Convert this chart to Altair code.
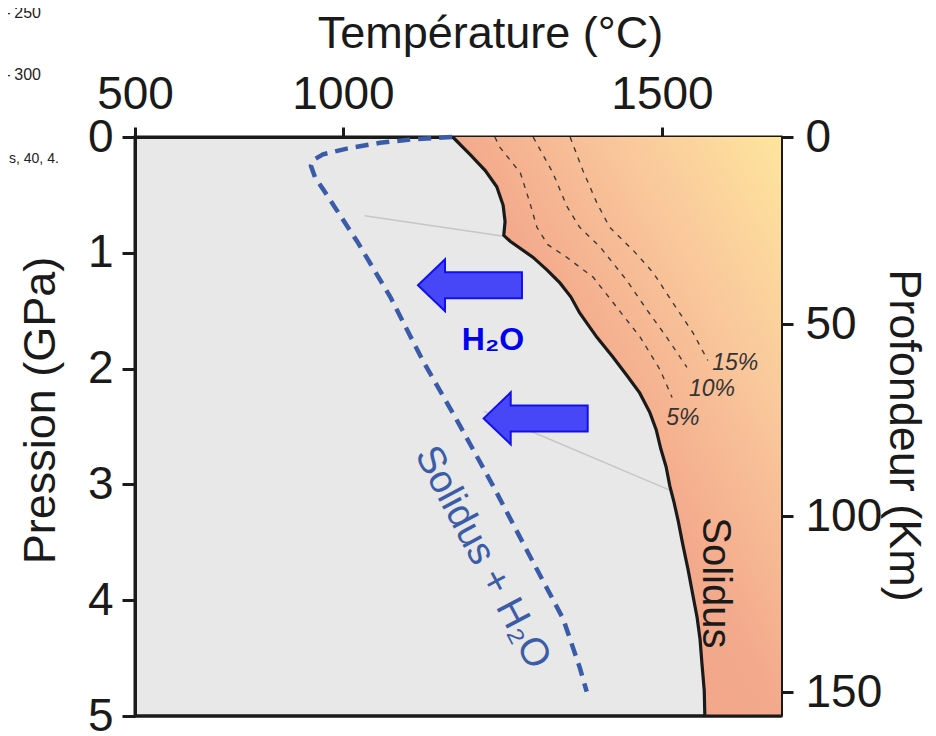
import altair as alt
import pandas as pd

# ---------------- data ----------------
T_TICKS = [500, 1000, 1500]
T_DOMAIN = [500, 1000, 1500, 1700]
P_TICKS = [0, 1, 2, 3, 4, 5]
P_DOMAIN = [0, 5]
Z_TICKS = [0, 50, 100, 150]
Z_DOMAIN = [0, 50, 100, 150, 157]

solidus_T = [1172, 1199, 1223, 1241, 1251, 1254, 1252, 1262, 1298, 1320, 1340, 1357,
             1371, 1398, 1423, 1445, 1465, 1481, 1491, 1498, 1507, 1513, 1520, 1527,
             1535, 1544, 1552, 1559, 1564, 1567, 1571, 1572]
solidus_P = [0.0, 0.15, 0.29, 0.43, 0.59, 0.73, 0.85, 0.90, 1.04, 1.15, 1.26, 1.38,
             1.52, 1.73, 1.90, 2.06, 2.21, 2.38, 2.53, 2.69, 2.85, 3.01, 3.15, 3.31,
             3.52, 3.74, 3.96, 4.15, 4.34, 4.54, 4.78, 5.0]

wet_T = [1171, 1110, 1058, 1006, 952, 928, 923, 933, 952, 1022, 1074, 1125,
         1178, 1235, 1293, 1345, 1371, 1382]
wet_P = [0.0, 0.02, 0.05, 0.10, 0.15, 0.20, 0.25, 0.35, 0.45, 0.90, 1.38, 1.93,
         2.44, 3.01, 3.62, 4.16, 4.58, 4.79]

melt5_T = [1238, 1246, 1278, 1293, 1304, 1321, 1351, 1392, 1429, 1466, 1497, 1517]
melt5_P = [0.0, 0.09, 0.31, 0.57, 0.78, 0.93, 1.04, 1.21, 1.47, 1.73, 2.01, 2.25]
melt10_T = [1298, 1329, 1351, 1371, 1403, 1445, 1476, 1508, 1542]
melt10_P = [0.0, 0.31, 0.60, 0.78, 0.95, 1.24, 1.49, 1.73, 1.99]
melt15_T = [1356, 1376, 1398, 1418, 1455, 1486, 1518, 1552, 1577]
melt15_P = [0.0, 0.29, 0.57, 0.78, 0.98, 1.17, 1.43, 1.69, 1.93]

pct_labels = ["5%", "10%", "15%"]
pct_T = [1535, 1584, 1623]
pct_P = [2.43, 2.18, 1.95]

guide_id = ["a", "a", "b", "b"]
guide_T = [1034, 1249, 1221, 1513]
guide_P = [0.68, 0.855, 2.37, 3.05]

arrow_T = [1199, 1302]
arrow_P = [1.28, 2.43]

h2o_T, h2o_P = [1235], [1.75]
wet_label_T, wet_label_P = [1219], [3.63]
sol_label_T, sol_label_P = [1589], [3.85]

fragments = ["– 250", "– 300", "s, 40, 4."]

# ---------------- layout ----------------
W, H = 646, 579
X_RANGE = [0, 208, 527, 646]
Z_RANGE = [0, 187, 379, 555, 579]
FONT = "Liberation Sans"

xscale = alt.Scale(domain=T_DOMAIN, range=X_RANGE, nice=False, zero=False)
yscale = alt.Scale(domain=P_DOMAIN, range=[0, H], nice=False, zero=False)

xaxis = alt.Axis(orient="top", values=T_TICKS, title="Température (°C)",
                 titleX=355, titleY=-90, titleAlign="center", titleBaseline="alphabetic",
                 titleAngle=0, labelPadding=9, tickSize=10, format="d")
yaxis = alt.Axis(orient="left", values=P_TICKS, title="Pression (GPa)",
                 titleX=-81, titleY=273, titleAlign="center", titleBaseline="alphabetic",
                 titleAngle=-90, labelPadding=9, tickSize=13, format="d")


def X(field="T"):
    return alt.X(f"{field}:Q", scale=xscale, axis=xaxis)


def Y(field="P"):
    return alt.Y(f"{field}:Q", scale=yscale, axis=yaxis)


sol_df = pd.DataFrame({"T": solidus_T, "P": solidus_P, "Tmax": T_DOMAIN[-1],
                       "i": range(len(solidus_T))})
wet_df = pd.DataFrame({"T": wet_T, "P": wet_P, "i": range(len(wet_T))})
melt_rows = []
for name, ts, ps in [("5", melt5_T, melt5_P), ("10", melt10_T, melt10_P), ("15", melt15_T, melt15_P)]:
    for i, (t, p) in enumerate(zip(ts, ps)):
        melt_rows.append({"c": name, "T": t, "P": p, "i": i})
melt_df = pd.DataFrame(melt_rows)
pct_df = pd.DataFrame({"T": pct_T, "P": pct_P, "label": pct_labels})
guide_df = pd.DataFrame({"g": guide_id, "T": guide_T, "P": guide_P, "i": range(4)})
arrow_df = pd.DataFrame({"T": arrow_T, "P": arrow_P})

gradient = alt.Gradient(
    gradient="linear",
    stops=[alt.GradientStop(color="#fee59d", offset=0),
           alt.GradientStop(color="#f9c79b", offset=0.25),
           alt.GradientStop(color="#f3a98c", offset=0.5),
           alt.GradientStop(color="#f0a087", offset=1)],
    x1=1, y1=0, x2=0, y2=1)

melt_area = alt.Chart(sol_df).mark_area(orient="horizontal", fill=gradient).encode(
    y=Y(), x=X(), x2="Tmax:Q")

bottom_rule = alt.Chart(pd.DataFrame({"P": [P_DOMAIN[1]]})).mark_rule(
    color="#1a1a1a", strokeWidth=3).encode(y=Y())

guides = alt.Chart(guide_df).mark_line(color="#c6c6c6", strokeWidth=1.4).encode(
    x=X(), y=Y(), detail="g:N", order="i:Q")

melt_lines = alt.Chart(melt_df).mark_line(color="#3a3a3a", strokeWidth=1.4,
                                          strokeDash=[5, 6]).encode(
    x=X(), y=Y(), detail="c:N", order="i:Q")

solidus = alt.Chart(sol_df).mark_line(color="#1a1a1a", strokeWidth=3.2).encode(
    x=X(), y=Y(), order="i:Q")

wet = alt.Chart(wet_df).mark_line(color="#3a5ca8", strokeWidth=4.5,
                                  strokeDash=[13, 8]).encode(
    x=X(), y=Y(), order="i:Q")

ARROW = "M -1 0 L -0.48 -0.5 L -0.48 -0.25 L 1 -0.25 L 1 0.25 L -0.48 0.25 L -0.48 0.5 Z"
arrows = alt.Chart(arrow_df).mark_point(shape=ARROW, size=104 * 104, filled=True,
                                        fill="#4747f7", stroke="#1010ee",
                                        strokeWidth=2, opacity=1).encode(x=X(), y=Y())

pct_text = alt.Chart(pct_df).mark_text(fontStyle="italic", fontSize=23, color="#333333",
                                       font=FONT).encode(x=X(), y=Y(), text="label:N")

h2o_text = alt.Chart(pd.DataFrame({"T": h2o_T, "P": h2o_P, "t": ["H₂O"]})).mark_text(
    fontWeight="bold", fontSize=32, color="#0000ee", font=FONT).encode(
    x=X(), y=Y(), text="t:N")

wet_text = alt.Chart(pd.DataFrame({"T": wet_label_T, "P": wet_label_P,
                                   "t": ["Solidus + H₂O"]})).mark_text(
    angle=62, fontSize=39, color="#3b5ca6", font=FONT).encode(x=X(), y=Y(), text="t:N")

sol_text = alt.Chart(pd.DataFrame({"T": sol_label_T, "P": sol_label_P,
                                   "t": ["Solidus"]})).mark_text(
    angle=90, fontSize=40, color="#1a1a1a", font=FONT).encode(x=X(), y=Y(), text="t:N")

frag_df = pd.DataFrame({"t": fragments, "px": [-94, -94, -126], "py": [-124, -62, 22],
                        "a": ["right", "right", "left"]})
frag_right = alt.Chart(frag_df.iloc[:2]).mark_text(
    fontSize=16, color="#222222", align="right", font=FONT).encode(
    x=alt.X("px:Q", scale=None), y=alt.Y("py:Q", scale=None), text="t:N")
frag_left = alt.Chart(frag_df.iloc[2:]).mark_text(
    fontSize=14, color="#222222", align="left", font=FONT).encode(
    x=alt.X("px:Q", scale=None), y=alt.Y("py:Q", scale=None), text="t:N")

depth_layer = alt.Chart(pd.DataFrame({"Z": [Z_DOMAIN[0], Z_DOMAIN[-1]]})).mark_point(
    opacity=0).encode(
    y=alt.Y("Z:Q", scale=alt.Scale(domain=Z_DOMAIN, range=Z_RANGE, nice=False, zero=False),
            axis=alt.Axis(orient="right", values=Z_TICKS, title="Profondeur (Km)",
                          titleX=108, titleY=298, titleAlign="center",
                          titleBaseline="alphabetic", titleAngle=90,
                          labelPadding=12, tickSize=12, format="d", labelAlign="left")))

main = alt.layer(melt_area, guides, melt_lines, solidus, wet, arrows, pct_text, h2o_text,
                 wet_text, sol_text, bottom_rule, frag_right, frag_left)

chart = alt.layer(main, depth_layer).resolve_scale(y="independent").properties(
    width=W, height=H,
    autosize=alt.AutoSizeParams(type="none"),
    padding={"left": 127, "top": 129, "right": 147, "bottom": 20},
).configure(font=FONT).configure_view(
    fill="#e8e8e8", stroke="#1a1a1a", strokeWidth=3
).configure_axis(
    labelFontSize=46, titleFontSize=45, labelColor="#1a1a1a", titleColor="#1a1a1a",
    titleFontWeight="normal", domainColor="#1a1a1a", domainWidth=3, tickColor="#1a1a1a",
    tickWidth=3, grid=False, zindex=1, labelFont=FONT, titleFont=FONT, labelFlush=False,
    labelOverlap=False
)

chart.save("out.html", embed_options={"renderer": "svg", "actions": False})
